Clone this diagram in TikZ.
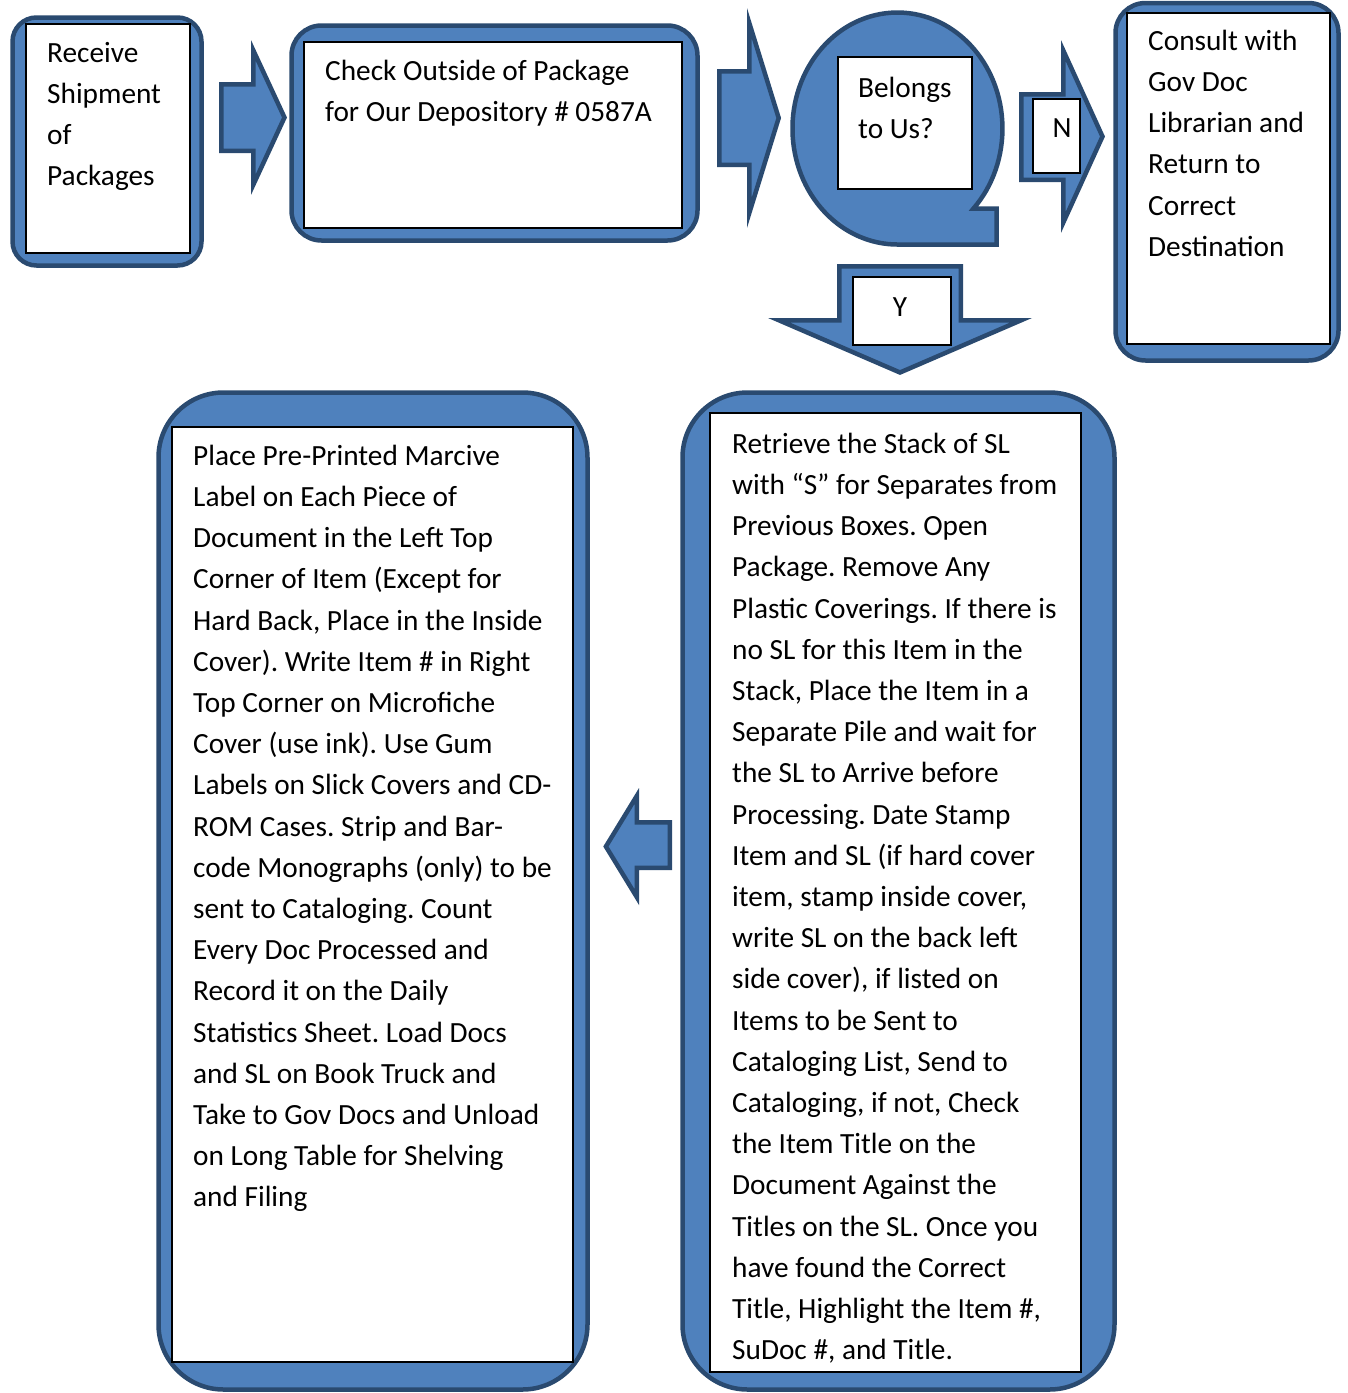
\documentclass[tikz,border=0pt]{standalone}
\usepackage{fontspec}
\setmainfont{Carlito}
\frenchspacing
\definecolor{fillblue}{HTML}{4F81BD}
\definecolor{edgeblue}{HTML}{2A4A70}
\newcommand\bodyfont{\fontsize{29.3}{41.2}\selectfont\frenchspacing}
\begin{document}
\begin{tikzpicture}[x=1pt,y=-1pt,
  blk/.style={fill=fillblue, draw=edgeblue, line width=4.5pt, line join=miter},
  inbox/.style={fill=white, draw=black, line width=1.2pt},
  txt/.style={anchor=north west, inner sep=0pt, align=left, font=\bodyfont},
  lbl/.style={anchor=base, inner sep=0pt, font=\bodyfont}]
\useasboundingbox (0,0) rectangle (1348,1393);
\fill[white] (0,0) rectangle (1348,1393);

% ---- Receive shipment
\draw[blk, rounded corners=24pt] (12.5,17.5) rectangle (201.5,265.5);
\draw[inbox] (26,24) rectangle (190,253);
\node[txt] (receive) at (47,33.16) {\strut Receive\\Shipment\\of\\Packages};

% arrow 1
\draw[blk] (221.25,84.25) -- (253.25,84.25) -- (253.25,50.2) -- (284.5,117.5) -- (253.25,184.8) -- (253.25,150.75) -- (221.25,150.75) -- cycle;

% ---- Check outside
\draw[blk, rounded corners=30pt] (291.5,25.5) rectangle (697.5,240.5);
\draw[inbox] (304,42) rectangle (682,228);
\node[txt] (check) at (325,51.16) {\strut Check Outside of Package\\for Our Depository \# 0587A};

% arrow 2
\draw[blk] (719.25,71.25) -- (749.25,71.25) -- (749.25,22.9) -- (778.7,118) -- (749.25,213.1) -- (749.25,164.75) -- (719.25,164.75) -- cycle;

% ---- Decision (sequential access shape)
\draw[blk] (973.5,208.5) arc[start angle=-43.6, end angle=270, x radius=105pt, y radius=116pt] -- (996.5,244.5) -- (996.5,208.5) -- cycle;
\draw[inbox] (838,57) rectangle (972,189);
\node[txt] (belongs) at (858,68.16) {\strut Belongs\\to Us?};

% N arrow
\draw[blk] (1021.25,94.25) -- (1063.25,94.25) -- (1063.25,50.4) -- (1102.5,136.5) -- (1063.25,222.6) -- (1063.25,179.75) -- (1021.25,179.75) -- cycle;
\draw[inbox] (1033,99) rectangle (1080,173);
\node[lbl] (no) at (1062,137) {N};

% ---- Consult
\draw[blk, rounded corners=30pt] (1115.5,3) rectangle (1338.5,360.5);
\draw[inbox] (1127,13) rectangle (1330,344);
\node[txt] (consult) at (1148,21.16) {\strut Consult with\\Gov Doc\\Librarian and\\Return to\\Correct\\Destination};

% Y arrow
\draw[blk] (839.25,266.25) -- (960.75,266.25) -- (960.75,320.25) -- (1021.1,320.25) -- (900,372.5) -- (778.9,320.25) -- (839.25,320.25) -- cycle;
\draw[inbox] (853,277) rectangle (951,345);
\node[lbl] (yes) at (900,316) {Y};

% ---- Bottom right: retrieve
\draw[blk, rounded corners=65pt] (682.5,392.5) rectangle (1114.5,1389.5);
\draw[inbox] (710,413) rectangle (1081,1372);
\node[txt] (retrieve) at (732,424.16) {\strut Retrieve the Stack of SL\\
with “S” for Separates from\\
Previous Boxes. Open\\
Package. Remove Any\\
Plastic Coverings. If there is\\
no SL for this Item in the\\
Stack, Place the Item in a\\
Separate Pile and wait for\\
the SL to Arrive before\\
Processing. Date Stamp\\
Item and SL (if hard cover\\
item, stamp inside cover,\\
write SL on the back left\\
side cover), if listed on\\
Items to be Sent to\\
Cataloging List, Send to\\
Cataloging, if not, Check\\
the Item Title on the\\
Document Against the\\
Titles on the SL. Once you\\
have found the Correct\\
Title, Highlight the Item \#,\\
SuDoc \#, and Title.};

% left arrow
\draw[blk] (669.75,822.25) -- (636.75,822.25) -- (636.75,796) -- (605.9,846.5) -- (636.75,897) -- (636.75,867.75) -- (669.75,867.75) -- cycle;

% ---- Bottom left: place label
\draw[blk, rounded corners=65pt] (158.5,392.5) rectangle (587.5,1389.5);
\draw[inbox] (172,427) rectangle (573,1362);
\node[txt] (place) at (193,436.16) {\strut Place Pre-Printed Marcive\\
Label on Each Piece of\\
Document in the Left Top\\
Corner of Item (Except for\\
Hard Back, Place in the Inside\\
Cover). Write Item \# in Right\\
Top Corner on Microfiche\\
Cover (use ink). Use Gum\\
Labels on Slick Covers and CD-\\
ROM Cases. Strip and Bar-\\
code Monographs (only) to be\\
sent to Cataloging. Count\\
Every Doc Processed and\\
Record it on the Daily\\
Statistics Sheet. Load Docs\\
and SL on Book Truck and\\
Take to Gov Docs and Unload\\
on Long Table for Shelving\\
and Filing};
\end{tikzpicture}
\end{document}
